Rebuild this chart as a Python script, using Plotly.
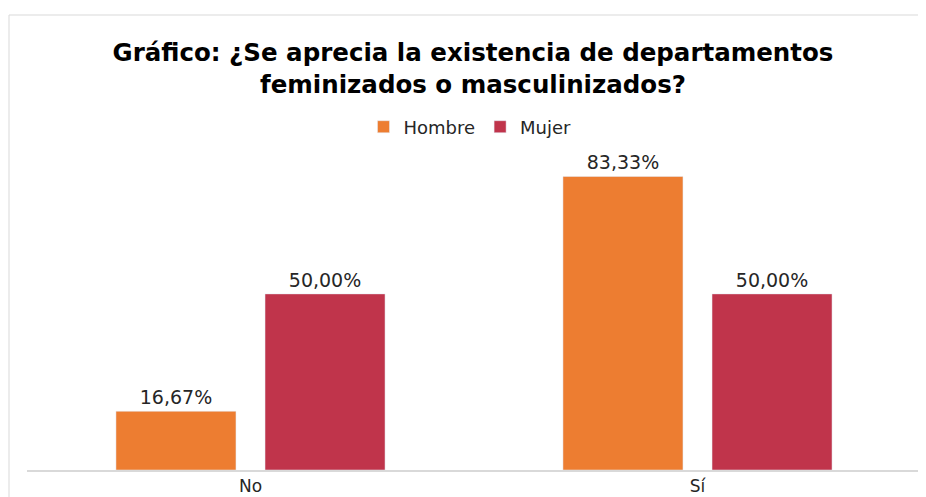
import plotly.graph_objects as go

categorias = ['No', 'Sí']
hombre = [16.67, 83.33]
mujer = [50.00, 50.00]
etiquetas_hombre = ['16,67%', '83,33%']
etiquetas_mujer = ['50,00%', '50,00%']

fuente = 'DejaVu Sans'

# la página tiene 8px de margen en el body, así que la figura es 8px más pequeña
W, H = 918, 489

fig = go.Figure()
fig.add_trace(go.Bar(x=categorias, y=hombre, name='Hombre',
                     marker_color='#ED7D31',
                     text=etiquetas_hombre, textposition='outside',
                     textfont=dict(family=fuente, size=19, color='#262626'),
                     cliponaxis=False))
fig.add_trace(go.Bar(x=categorias, y=mujer, name='Mujer',
                     marker_color='#C0344B',
                     text=etiquetas_mujer, textposition='outside',
                     textfont=dict(family=fuente, size=19, color='#262626'),
                     cliponaxis=False))

fig.update_layout(
    width=W, height=H,
    margin=dict(l=19, r=5, t=145, b=27, autoexpand=False),
    paper_bgcolor='white', plot_bgcolor='white',
    barmode='group', bargap=0.333, bargroupgap=0.195,
    font=dict(family=fuente, color='#262626'),
    title=dict(text='<b>Gráfico: ¿Se aprecia la existencia de departamentos<br>feminizados o masculinizados?</b>',
               font=dict(family=fuente, size=24.5, color='black'),
               x=465 / W, xanchor='center', xref='container',
               y=1 - 53 / H, yanchor='middle', yref='container'),
    legend=dict(orientation='h', x=462 / W, xanchor='center', xref='container',
                y=1 - 119 / H, yanchor='middle', yref='container',
                font=dict(family=fuente, size=18, color='#262626'),
                itemwidth=30, traceorder='normal'),
    showlegend=True,
)
fig.update_xaxes(showline=True, linecolor='#D9D9D9', linewidth=1.5,
                 ticks='', showgrid=False, automargin=False,
                 tickfont=dict(family=fuente, size=17, color='#262626'))
fig.update_yaxes(range=[0, 90], visible=False, showgrid=False, automargin=False)

# marco del gráfico
fig.add_shape(type='rect', xref='paper', yref='paper',
              x0=-18 / 894, x1=1.2, y0=-0.3, y1=455 / 317,
              line=dict(color='#D9D9D9', width=1), fillcolor='rgba(0,0,0,0)')

fig.write_html('out.html')
